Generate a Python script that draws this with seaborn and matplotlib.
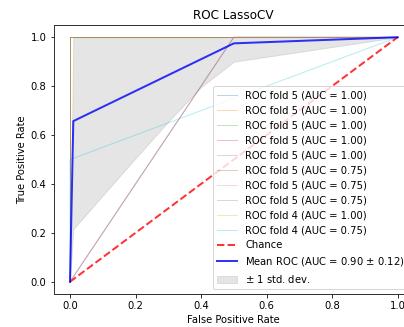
import numpy as np
import pandas as pd
import matplotlib
matplotlib.use("Agg")
import matplotlib.pyplot as plt
import seaborn as sns

# ROC curve of every fold (fpr, tpr vertices)
fold_labels = [
    "ROC fold 5 (AUC = 1.00)", "ROC fold 5 (AUC = 1.00)", "ROC fold 5 (AUC = 1.00)",
    "ROC fold 5 (AUC = 1.00)", "ROC fold 5 (AUC = 1.00)", "ROC fold 5 (AUC = 0.75)",
    "ROC fold 5 (AUC = 0.75)", "ROC fold 5 (AUC = 0.75)", "ROC fold 4 (AUC = 1.00)",
    "ROC fold 4 (AUC = 0.75)",
]
fold_fpr = [
    [0, 0, 1], [0, 0, 1], [0, 0, 1], [0, 0, 1], [0, 0, 1],
    [0, 0.5, 1], [0, 0.5, 1], [0, 0.5, 1], [0, 0, 1], [0, 0, 1],
]
fold_tpr = [
    [0, 1, 1], [0, 1, 1], [0, 1, 1], [0, 1, 1], [0, 1, 1],
    [0, 1, 1], [0, 1, 1], [0, 1, 1], [0, 1, 1], [0, 0.5, 1],
]

# mean ROC
mean_fpr = [0, 0.0101, 0.5, 1.0]
mean_tpr = [0, 0.657, 0.975, 1.0]
mean_label = "Mean ROC (AUC = 0.90 $\\pm$ 0.12)"

# +-1 std band
band_fpr = [0, 0.0101, 0.1, 0.2, 0.3, 0.4, 0.5, 0.6, 0.7, 0.8, 0.9, 1.0]
band_lo = [0, 0.215, 0.353, 0.505, 0.655, 0.796, 0.90, 0.92, 0.94, 0.96, 0.98, 1.0]
band_hi = [0, 1, 1, 1, 1, 1, 1, 1, 1, 1, 1, 1]

palette = sns.color_palette("tab10", 10)

fig = plt.figure(figsize=(404 / 72, 327 / 72), dpi=72)
ax = fig.add_axes([0.1327, 0.1009, 0.892, 0.8226])
for s in ax.spines.values():
    s.set_linewidth(1.0)
    s.set_edgecolor("#333333")

for i in range(len(fold_labels)):
    d = pd.DataFrame({"fpr": fold_fpr[i], "tpr": fold_tpr[i]})
    sns.lineplot(data=d, x="fpr", y="tpr", ax=ax, sort=False, estimator=None,
                 lw=1, alpha=0.3, color=palette[i], label=fold_labels[i])

chance = pd.DataFrame({"fpr": [0, 1], "tpr": [0, 1]})
sns.lineplot(data=chance, x="fpr", y="tpr", ax=ax, sort=False, estimator=None,
             linestyle="--", lw=2, color="r", alpha=0.8, label="Chance")

mean_df = pd.DataFrame({"fpr": mean_fpr, "tpr": mean_tpr})
sns.lineplot(data=mean_df, x="fpr", y="tpr", ax=ax, sort=False, estimator=None,
             color="b", lw=2, alpha=0.8, label=mean_label)

ax.fill_between(band_fpr, band_lo, band_hi, color="grey", alpha=0.2,
                label="$\\pm$ 1 std. dev.")

ax.set_xlim(-0.05, 1.05)
ax.set_ylim(-0.05, 1.05)
ax.set_xlabel("False Positive Rate")
ax.set_ylabel("True Positive Rate")
ax.set_title("ROC LassoCV")
ax.legend(loc="lower right")

fig.savefig("out.png", dpi=72)
